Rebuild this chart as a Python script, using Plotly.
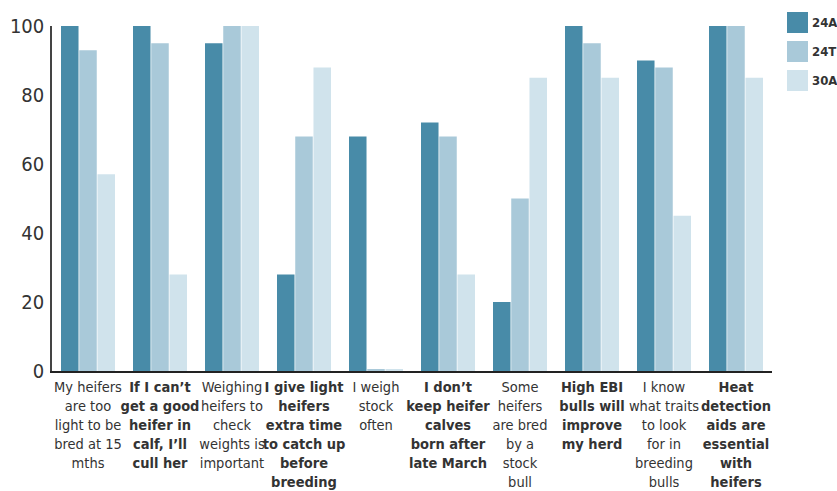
import plotly.graph_objects as go

categories = [
    "My heifers<br>are too<br>light to be<br>bred at 15<br>mths",
    "<b>If I can’t<br>get a good<br>heifer in<br>calf, I’ll<br>cull her</b>",
    "Weighing<br>heifers to<br>check<br>weights is<br>important",
    "<b>I give light<br>heifers<br>extra time<br>to catch up<br>before<br>breeding</b>",
    "I weigh<br>stock<br>often",
    "<b>I don’t<br>keep heifer<br>calves<br>born after<br>late March</b>",
    "Some<br>heifers<br>are bred<br>by a<br>stock<br>bull",
    "<b>High EBI<br>bulls will<br>improve<br>my herd</b>",
    "I know<br>what traits<br>to look<br>for in<br>breeding<br>bulls",
    "<b>Heat<br>detection<br>aids are<br>essential<br>with<br>heifers</b>",
]
series_names = ["24A", "24T", "30A"]
v_24A = [100, 100, 95, 28, 68, 72, 20, 100, 90, 100]
v_24T = [93, 95, 100, 68, 0.5, 68, 50, 95, 88, 100]
v_30A = [57, 28, 100, 88, 0.5, 28, 85, 85, 45, 85]
colors = ["#488ba8", "#a9c9d9", "#d0e3ec"]
y_ticks = [0, 20, 40, 60, 80, 100]

FONT = "DejaVu Sans Condensed, Liberation Sans Narrow, sans-serif"
x_idx = list(range(len(categories)))

W, H = 837, 491
L, T, PW, PH = 52, 26, 720, 345

fig = go.Figure()
for name, vals, col in zip(series_names, [v_24A, v_24T, v_30A], colors):
    fig.add_trace(go.Bar(x=x_idx, y=vals, name=name, marker=dict(color=col, line=dict(width=0)),
                         showlegend=False))

shapes = []
annotations = []
for i, (name, col) in enumerate(zip(series_names, colors)):
    y0 = 1 + (14 - i * 29) / PH
    shapes.append(dict(type="rect", xref="paper", yref="paper",
                       x0=1 + 15 / PW, x1=1 + 36 / PW, y0=y0 - 21 / PH, y1=y0,
                       fillcolor=col, line=dict(width=0)))
    annotations.append(dict(xref="paper", yref="paper", x=1 + 38 / PW, y=y0 - 10.5 / PH,
                            text="<b>" + name + "</b>", showarrow=False, xanchor="left",
                            yanchor="middle",
                            font=dict(family=FONT, size=13, color="#333")))

fig.update_layout(
    width=W, height=H,
    margin=dict(l=L, r=W - L - PW, t=T, b=H - T - PH, autoexpand=False),
    paper_bgcolor="white", plot_bgcolor="white",
    barmode="group", bargap=0.24, bargroupgap=0.04,
    font=dict(family=FONT, color="#333"),
    shapes=shapes, annotations=annotations,
    xaxis=dict(tickmode="array", tickvals=x_idx, ticktext=categories,
               tickfont=dict(family=FONT, size=14.5, color="#333"),
               showline=True, linecolor="#222", linewidth=2, ticks="",
               range=[-0.5, len(categories) - 0.5], showgrid=False, tickangle=0,
               automargin=False, ticklabelstandoff=2),
    yaxis=dict(range=[0, 100], tickvals=y_ticks, showgrid=False, zeroline=False,
               showline=True, linecolor="#444", linewidth=1.5, ticks="",
               tickfont=dict(family=FONT, size=20, color="#333"), ticklabelstandoff=2,
               automargin=False),
)

fig.write_html("out.html", config={"displayModeBar": False},
               post_script="document.body.style.margin='0px';document.body.style.overflow='hidden';")
